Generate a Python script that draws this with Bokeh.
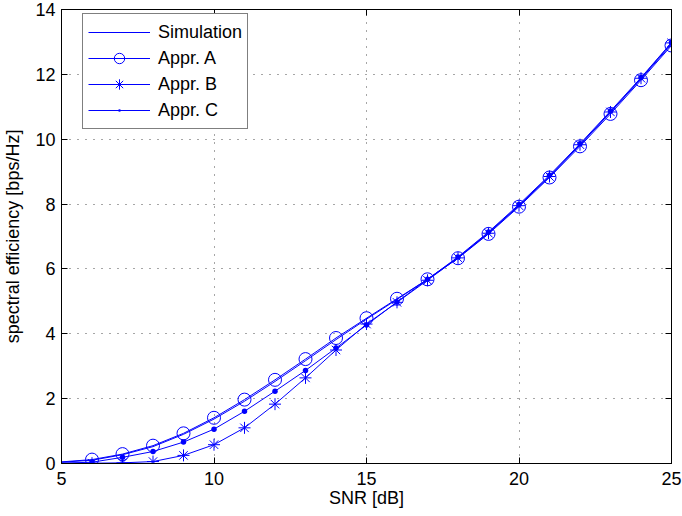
from bokeh.plotting import figure
from bokeh.models import Range1d, FixedTicker, LinearAxis, Legend, LegendItem
from bokeh.embed import file_html
from bokeh.resources import INLINE

# ---- data ----
snr = [5, 6, 7, 8, 9, 10, 11, 12, 13, 14, 15, 16, 17, 18, 19, 20, 21, 22, 23, 24, 25]
simulation = [0.04, 0.10, 0.27, 0.52, 0.90, 1.37, 1.92, 2.53, 3.17, 3.82, 4.45,
              5.06, 5.68, 6.35, 7.12, 7.96, 8.86, 9.82, 10.83, 11.86, 12.93]
appr_a = [0.05, 0.12, 0.29, 0.55, 0.93, 1.41, 1.97, 2.58, 3.22, 3.87, 4.48,
          5.08, 5.68, 6.33, 7.08, 7.92, 8.82, 9.78, 10.78, 11.82, 12.89]
appr_b = [0.01, 0.01, 0.02, 0.06, 0.25, 0.58, 1.10, 1.83, 2.64, 3.50, 4.30,
          4.97, 5.65, 6.34, 7.10, 7.95, 8.85, 9.83, 10.84, 11.88, 12.97]
appr_c = [0.01, 0.04, 0.19, 0.37, 0.66, 1.06, 1.61, 2.23, 2.87, 3.56, 4.27,
          4.98, 5.68, 6.37, 7.14, 7.99, 8.89, 9.86, 10.87, 11.90, 12.98]
x_ticks = [5, 10, 15, 20, 25]
y_ticks = [0, 2, 4, 6, 8, 10, 12, 14]
labels = ["Simulation", "Appr. A", "Appr. B", "Appr. C"]

BLUE = "#0000ff"
FONT = "Liberation Sans"

p = figure(width=682, height=516, output_backend="svg", toolbar_location=None,
           x_range=Range1d(5, 25), y_range=Range1d(0, 14),
           min_border_left=60, min_border_right=11, min_border_top=9, min_border_bottom=53)
p.background_fill_color = "white"
p.border_fill_color = "white"
p.outline_line_color = "black"
p.outline_line_width = 1

# axes
for ax in (p.xaxis[0], p.yaxis[0]):
    ax.major_tick_in = 6
    ax.major_tick_out = 0
    ax.minor_tick_line_color = None
    ax.axis_line_color = "black"
    ax.major_tick_line_color = "black"
    ax.major_label_text_font = FONT
    ax.major_label_text_font_size = "18px"
    ax.major_label_text_color = "black"
    ax.axis_label_text_font = FONT
    ax.axis_label_text_font_size = "18px"
    ax.axis_label_text_font_style = "normal"
    ax.axis_label_text_color = "black"

p.xaxis[0].ticker = FixedTicker(ticks=x_ticks)
p.yaxis[0].ticker = FixedTicker(ticks=y_ticks)
p.xaxis[0].axis_label = "SNR [dB]"
p.yaxis[0].axis_label = "spectral efficiency [bps/Hz]"
p.xaxis[0].major_label_standoff = 8
p.xaxis[0].axis_label_standoff = 0
p.yaxis[0].major_label_standoff = 6
p.yaxis[0].axis_label_standoff = 9

# mirrored axes (ticks only, no labels) on top and right
top = LinearAxis(ticker=FixedTicker(ticks=x_ticks), major_label_text_color=None,
                 major_label_text_font_size="1px",
                 major_tick_in=6, major_tick_out=0, minor_tick_line_color=None,
                 major_label_standoff=0, axis_line_color="black")
right = LinearAxis(ticker=FixedTicker(ticks=y_ticks), major_label_text_color=None,
                   major_label_text_font_size="1px",
                   major_tick_in=6, major_tick_out=0, minor_tick_line_color=None,
                   major_label_standoff=0, axis_line_color="black")
p.add_layout(top, "above")
p.add_layout(right, "right")

# grid
for g in (p.xgrid[0], p.ygrid[0]):
    g.grid_line_color = "black"
    g.grid_line_alpha = 0.7
    g.grid_line_width = 1
    g.grid_line_dash = "1 7"

# series
l_sim = p.line(snr, simulation, line_color=BLUE, line_width=1)
l_a = p.line(snr, appr_a, line_color=BLUE, line_width=1)
s_a = p.scatter(snr[1:], appr_a[1:], marker="circle", size=13,
                fill_color=None, line_color=BLUE, line_width=1)
l_b = p.line(snr, appr_b, line_color=BLUE, line_width=1)
s_b = p.scatter(snr[1:], appr_b[1:], marker="asterisk", size=12,
                line_color=BLUE, line_width=1)
l_c = p.line(snr, appr_c, line_color=BLUE, line_width=1)
s_c = p.scatter(snr[1:], appr_c[1:], marker="dot", size=22,
                fill_color=BLUE, line_color=BLUE)

legend = Legend(items=[
    LegendItem(label=labels[0], renderers=[l_sim]),
    LegendItem(label=labels[1], renderers=[l_a, s_a]),
    LegendItem(label=labels[2], renderers=[l_b, s_b]),
    LegendItem(label=labels[3], renderers=[l_c, s_c]),
], location=(21, 334))
legend.label_text_font = FONT
legend.label_text_font_size = "18px"
legend.label_text_color = "black"
legend.border_line_color = "black"
legend.border_line_width = 1
legend.background_fill_color = "white"
legend.background_fill_alpha = 1
legend.padding = 5
legend.spacing = 0
legend.margin = 0
legend.glyph_width = 62
legend.glyph_height = 26
legend.label_height = 26
legend.label_standoff = 8
p.add_layout(legend, "center")

open("out.html", "w").write(file_html(p, INLINE))
